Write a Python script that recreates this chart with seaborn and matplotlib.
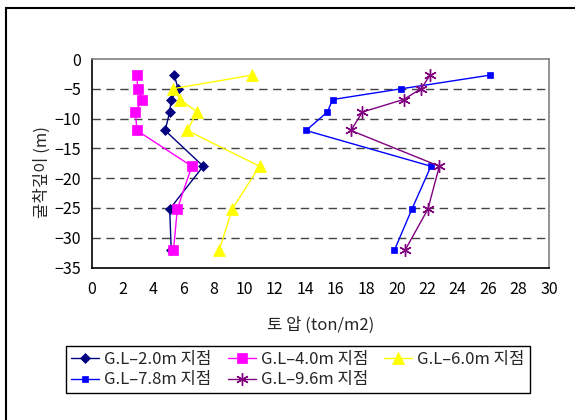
import matplotlib
matplotlib.use("Agg")
import matplotlib.pyplot as plt
import matplotlib.patches as mpatches
import seaborn as sns
import pandas as pd

sns.set_theme(style="white")
plt.rcParams['font.family'] = ['Noto Sans CJK KR', 'DejaVu Sans']
plt.rcParams['axes.unicode_minus'] = True

# Data
depth = [-2.7, -5.0, -6.8, -8.9, -12.0, -18.0, -25.2, -32.1]
gl_2_0 = [5.4, 5.65, 5.2, 5.1, 4.8, 7.3, 5.1, 5.2]
gl_4_0 = [2.95, 3.0, 3.3, 2.85, 2.95, 6.55, 5.6, 5.35]
gl_6_0 = [10.5, 5.3, 5.8, 6.9, 6.25, 11.0, 9.2, 8.35]
gl_7_8 = [26.15, 20.3, 15.8, 15.45, 14.05, 22.25, 21.0, 19.85]
gl_9_6 = [22.2, 21.6, 20.45, 17.75, 17.0, 22.8, 22.05, 20.55]
labels = ["G.L–2.0m 지점", "G.L–4.0m 지점", "G.L–6.0m 지점", "G.L–7.8m 지점", "G.L–9.6m 지점"]
x_ticks = list(range(0, 31, 2))
y_ticks = list(range(0, -36, -5))

series = [gl_2_0, gl_4_0, gl_6_0, gl_7_8, gl_9_6]
colors = ["#000080", "#FF00FF", "#FFFF00", "#0000FF", "#800080"]
markers = ["D", "s", "^", "s", (6, 2, 0)]
msizes = [5.5, 7, 8.5, 4, 9]

fig = plt.figure(figsize=(5.75, 4.2), dpi=100)
ax = fig.add_axes([92 / 575, 1 - 267.5 / 420, (549 - 92) / 575, (267.5 - 59) / 420])

for yv in [-5, -10, -15, -20, -25, -30]:
    ax.axhline(yv, color="#444444", linewidth=1.0, linestyle=(0, (6, 4)), zorder=1)

handles = []
for vals, lab, c, m, ms in zip(series, labels, colors, markers, msizes):
    df = pd.DataFrame({"x": vals, "y": depth})
    sns.lineplot(data=df, x="x", y="y", sort=False, estimator=None, ax=ax,
                 color=c, marker=m, markersize=ms, markeredgecolor=c,
                 markeredgewidth=1.0 if m == (6, 2, 0) else 0.5,
                 linewidth=1.0, label=lab, legend=False, zorder=3)
    handles.append(ax.lines[-1])

ax.set_xlim(0, 30)
ax.set_ylim(-35, 0)
ax.set_xticks(x_ticks)
ax.set_yticks(y_ticks)
ax.tick_params(axis="both", direction="in", length=4, width=0.8, labelsize=11.5,
               colors="black", pad=8)
ax.tick_params(axis="x", pad=10)
for s in ["left", "bottom"]:
    ax.spines[s].set_color("black")
    ax.spines[s].set_linewidth(1.2)
for s in ["right", "top"]:
    ax.spines[s].set_color("#808080")
    ax.spines[s].set_linewidth(1.2)

ax.set_xlabel("")
ax.set_ylabel("")
fig.text(42 / 575, 1 - 172 / 420, "굴착깊이 (m)", rotation=90, ha="center", va="center", fontsize=12)
fig.text(321 / 575, 1 - 325 / 420, "토 압 (ton/m2)", ha="center", va="center", fontsize=12)

order = [0, 3, 1, 4, 2]
leg = fig.legend([handles[i] for i in order], [labels[i] for i in order], ncol=3,
                 loc="upper left", bbox_to_anchor=(66 / 575, 1 - 346 / 420),
                 frameon=True, fancybox=False, edgecolor="black", framealpha=1,
                 fontsize=12, handlelength=1.7, handletextpad=0.3,
                 columnspacing=0.95, labelspacing=0.2, borderpad=0.3,
                 borderaxespad=0)
leg.get_frame().set_linewidth(1.0)

# outer frame
fig.patches.append(mpatches.Rectangle((6 / 575, -0.2), 2.0, 1.2 - 8 / 420,
                                      transform=fig.transFigure, fill=False,
                                      edgecolor="black", linewidth=1.5))

fig.savefig("out.png", dpi=100)
